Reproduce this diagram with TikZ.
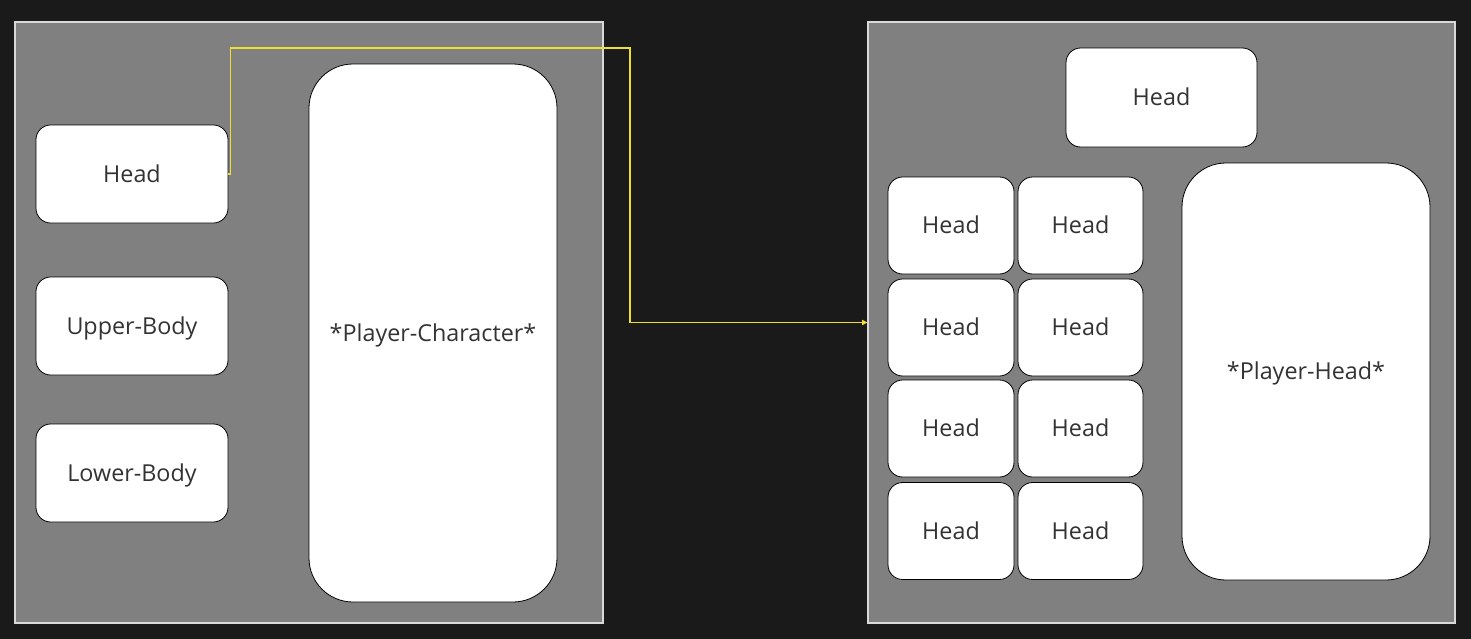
\documentclass[tikz,border=0pt]{standalone}
\usepackage{fontspec}
\setmainfont{Open Sans}
\usetikzlibrary{arrows.meta}
\definecolor{bgdark}{HTML}{1A1A1A}
\definecolor{panelgray}{HTML}{808080}
\definecolor{panelline}{HTML}{D9D9D9}
\definecolor{textgray}{HTML}{333333}
\definecolor{linkyellow}{HTML}{EEDD33}

\tikzstyle{panel} = [rectangle,fill=panelgray,draw=panelline,line width=0.9pt,inner sep=0pt]
\tikzstyle{part} = [rectangle,rounded corners=11pt,fill=white,draw=black,line width=0.6pt,text=textgray,font=\fontsize{17.5}{21}\selectfont,inner sep=0pt,text depth=1pt]
\tikzstyle{whole} = [part,rounded corners=33pt]
\tikzstyle{link} = [linkyellow,line width=0.8pt,-{Triangle[length=4pt,width=4pt]}]

\begin{document}
\begin{tikzpicture}[x=0.75pt,y=-0.75pt]
	\fill[bgdark] (0,0) rectangle (1471,639);
	\useasboundingbox (0,0) rectangle (1471,639);
	\node[panel,minimum width=441pt,minimum height=450.75pt] (leftpanel) at (309,322.5) {};
	\node[panel,minimum width=440.25pt,minimum height=450.75pt] (rightpanel) at (1161.5,322.5) {};
	\node[part,minimum width=144pt,minimum height=73.5pt] (head) at (132,174) {Head};
	\node[part,minimum width=144pt,minimum height=73.5pt] (upper) at (132,326) {Upper-Body};
	\node[part,minimum width=144pt,minimum height=73.5pt] (lower) at (132,473) {Lower-Body};
	\node[whole,minimum width=186pt,minimum height=403.5pt] (player) at (433,333) {*Player-Character*};
	\node[part,minimum width=143.25pt,minimum height=74.25pt] (tophead) at (1161.5,97.5) {Head};
	\foreach \y [count=\i] in {225.5,327.5,428.5,531} {
		\node[part,minimum width=94.5pt,minimum height=72.75pt] (heada\i) at (951,\y) {Head};
		\node[part,minimum width=93.75pt,minimum height=72.75pt] (headb\i) at (1080.5,\y) {Head};
	}
	\node[whole,minimum width=186pt,minimum height=312.75pt] (playerhead) at (1306,371.5) {*Player-Head*};
	\coordinate (bend) at (630,48);
	\draw[link] (head.east) -- ++(2,0) |- (bend) |- (rightpanel.west);
\end{tikzpicture}
\end{document}
